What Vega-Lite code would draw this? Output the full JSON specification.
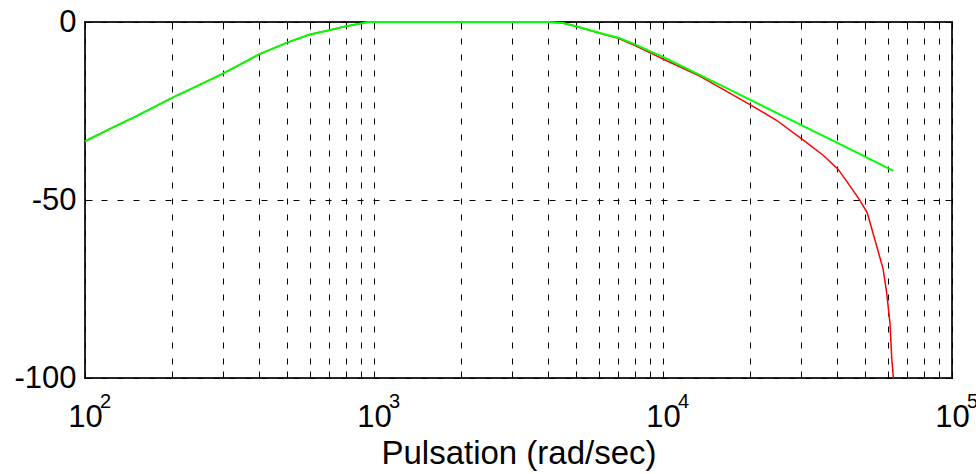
{
  "$schema": "https://vega.github.io/schema/vega-lite/v6.json",
  "width": 867,
  "height": 356,
  "autosize": {"type": "none"},
  "padding": {"left": 85, "top": 22, "right": 24, "bottom": 96},
  "background": "white",
  "config": {
    "view": {"stroke": "#262626", "strokeWidth": 2},
    "font": "Liberation Sans"
  },
  "datasets": {
    "exps": [
      {"f": 100, "e": "2"},
      {"f": 1000, "e": "3"},
      {"f": 10000, "e": "4"},
      {"f": 100000, "e": "5"}
    ],
    "curves": [
      {"f": 100, "db": -33.5, "series": "H2"},
      {"f": 125, "db": -29.6, "series": "H2"},
      {"f": 150, "db": -26.5, "series": "H2"},
      {"f": 200, "db": -21.3, "series": "H2"},
      {"f": 250, "db": -17.6, "series": "H2"},
      {"f": 300, "db": -14.5, "series": "H2"},
      {"f": 350, "db": -11.6, "series": "H2"},
      {"f": 400, "db": -9.1, "series": "H2"},
      {"f": 500, "db": -5.8, "series": "H2"},
      {"f": 600, "db": -3.5, "series": "H2"},
      {"f": 700, "db": -2.3, "series": "H2"},
      {"f": 800, "db": -1.2, "series": "H2"},
      {"f": 900, "db": -0.4, "series": "H2"},
      {"f": 950, "db": 0, "series": "H2"},
      {"f": 2000, "db": 0, "series": "H2"},
      {"f": 4000, "db": 0, "series": "H2"},
      {"f": 4500, "db": -0.3, "series": "H2"},
      {"f": 5000, "db": -1.2, "series": "H2"},
      {"f": 6000, "db": -3.1, "series": "H2"},
      {"f": 7000, "db": -4.6, "series": "H2"},
      {"f": 8000, "db": -6.6, "series": "H2"},
      {"f": 9000, "db": -8.6, "series": "H2"},
      {"f": 10000, "db": -10.4, "series": "H2"},
      {"f": 13400, "db": -15.2, "series": "H2"},
      {"f": 16200, "db": -19.0, "series": "H2"},
      {"f": 20000, "db": -23.2, "series": "H2"},
      {"f": 24700, "db": -27.6, "series": "H2"},
      {"f": 30600, "db": -33.2, "series": "H2"},
      {"f": 35900, "db": -37.5, "series": "H2"},
      {"f": 40400, "db": -41.4, "series": "H2"},
      {"f": 44400, "db": -46.1, "series": "H2"},
      {"f": 48000, "db": -50.1, "series": "H2"},
      {"f": 50900, "db": -53.6, "series": "H2"},
      {"f": 54900, "db": -63.0, "series": "H2"},
      {"f": 57800, "db": -69.5, "series": "H2"},
      {"f": 59400, "db": -76.0, "series": "H2"},
      {"f": 61000, "db": -84.5, "series": "H2"},
      {"f": 61900, "db": -94.8, "series": "H2"},
      {"f": 62700, "db": -100, "series": "H2"},
      {"f": 100, "db": -33.5, "series": "H1"},
      {"f": 125, "db": -29.6, "series": "H1"},
      {"f": 150, "db": -26.5, "series": "H1"},
      {"f": 200, "db": -21.3, "series": "H1"},
      {"f": 250, "db": -17.6, "series": "H1"},
      {"f": 300, "db": -14.5, "series": "H1"},
      {"f": 350, "db": -11.6, "series": "H1"},
      {"f": 400, "db": -9.1, "series": "H1"},
      {"f": 500, "db": -5.8, "series": "H1"},
      {"f": 600, "db": -3.5, "series": "H1"},
      {"f": 700, "db": -2.3, "series": "H1"},
      {"f": 800, "db": -1.2, "series": "H1"},
      {"f": 900, "db": -0.4, "series": "H1"},
      {"f": 950, "db": 0, "series": "H1"},
      {"f": 2000, "db": 0, "series": "H1"},
      {"f": 4000, "db": 0, "series": "H1"},
      {"f": 4500, "db": -0.3, "series": "H1"},
      {"f": 5000, "db": -1.2, "series": "H1"},
      {"f": 6000, "db": -3.0, "series": "H1"},
      {"f": 7000, "db": -4.4, "series": "H1"},
      {"f": 8000, "db": -6.3, "series": "H1"},
      {"f": 9000, "db": -8.2, "series": "H1"},
      {"f": 10000, "db": -9.8, "series": "H1"},
      {"f": 20000, "db": -21.8, "series": "H1"},
      {"f": 30000, "db": -28.9, "series": "H1"},
      {"f": 40000, "db": -33.9, "series": "H1"},
      {"f": 50000, "db": -37.8, "series": "H1"},
      {"f": 62700, "db": -41.8, "series": "H1"}
    ]
  },
  "resolve": {"axis": {"x": "independent", "y": "independent"}},
  "layer": [
    {
      "data": {"name": "curves"},
      "transform": [{"filter": "datum.series === 'H2'"}],
      "mark": {"type": "line", "color": "#ff0000", "strokeWidth": 1.5, "clip": false},
      "encoding": {
        "x": {
          "field": "f", "type": "quantitative",
          "scale": {"type": "log", "domain": [100, 100000], "nice": false},
          "axis": {
            "values": [100, 200, 300, 400, 500, 600, 700, 800, 900, 1000, 2000, 3000, 4000, 5000, 6000, 7000, 8000, 9000, 10000, 20000, 30000, 40000, 50000, 60000, 70000, 80000, 90000, 100000],
            "labelExpr": "datum.value == 100 || datum.value == 1000 || datum.value == 10000 || datum.value == 100000 ? '10' : ''",
            "grid": true, "gridColor": "black", "gridDash": [6, 10], "gridWidth": 1, "gridOpacity": 1,
            "tickSize": -7, "tickColor": "black", "tickWidth": 1,
            "domain": false,
            "labelFontSize": 31, "labelColor": "black", "labelPadding": 31, "labelDx": -6,
            "labelFlush": false, "labelOverlap": false, "labelBound": false,
            "title": "Pulsation (rad/sec)", "titleFontSize": 33, "titleFontWeight": "normal", "titleColor": "black", "titlePadding": 5
          }
        },
        "y": {
          "field": "db", "type": "quantitative",
          "scale": {"domain": [-100, 0], "nice": false},
          "axis": {
            "values": [-100, -50, 0],
            "labelExpr": "datum.value == 0 ? '0' : datum.value == -50 ? '-50' : '-100'",
            "grid": true, "gridColor": "black", "gridDash": [6, 10], "gridWidth": 1, "gridOpacity": 1,
            "tickSize": -7, "tickColor": "black", "tickWidth": 1,
            "domain": false,
            "labelFontSize": 31, "labelColor": "black", "labelPadding": 16,
            "labelFlush": false, "labelOverlap": false, "labelBound": false,
            "title": null
          }
        }
      }
    },
    {
      "data": {"name": "curves"},
      "transform": [{"filter": "datum.series === 'H1'"}],
      "mark": {"type": "line", "color": "#00ff00", "strokeWidth": 2, "clip": false},
      "encoding": {
        "x": {
          "field": "f", "type": "quantitative",
          "scale": {"type": "log", "domain": [100, 100000], "nice": false},
          "axis": {
            "orient": "top",
            "values": [100, 200, 300, 400, 500, 600, 700, 800, 900, 1000, 2000, 3000, 4000, 5000, 6000, 7000, 8000, 9000, 10000, 20000, 30000, 40000, 50000, 60000, 70000, 80000, 90000, 100000],
            "labels": false, "grid": false, "domain": false,
            "tickSize": -7, "tickColor": "black", "tickWidth": 1, "title": null
          }
        },
        "y": {
          "field": "db", "type": "quantitative",
          "scale": {"domain": [-100, 0], "nice": false},
          "axis": {
            "orient": "right",
            "values": [-100, -50, 0],
            "labels": false, "grid": false, "domain": false,
            "tickSize": -7, "tickColor": "black", "tickWidth": 1, "title": null
          }
        }
      }
    },
    {
      "data": {"name": "exps"},
      "mark": {"type": "text", "align": "left", "baseline": "alphabetic", "fontSize": 20, "color": "black", "dx": 15, "dy": 30, "clip": false},
      "encoding": {
        "x": {"field": "f", "type": "quantitative", "scale": {"type": "log", "domain": [100, 100000], "nice": false}, "axis": null},
        "y": {"datum": -100, "type": "quantitative", "scale": {"domain": [-100, 0], "nice": false}, "axis": null},
        "text": {"field": "e"}
      }
    }
  ]
}
